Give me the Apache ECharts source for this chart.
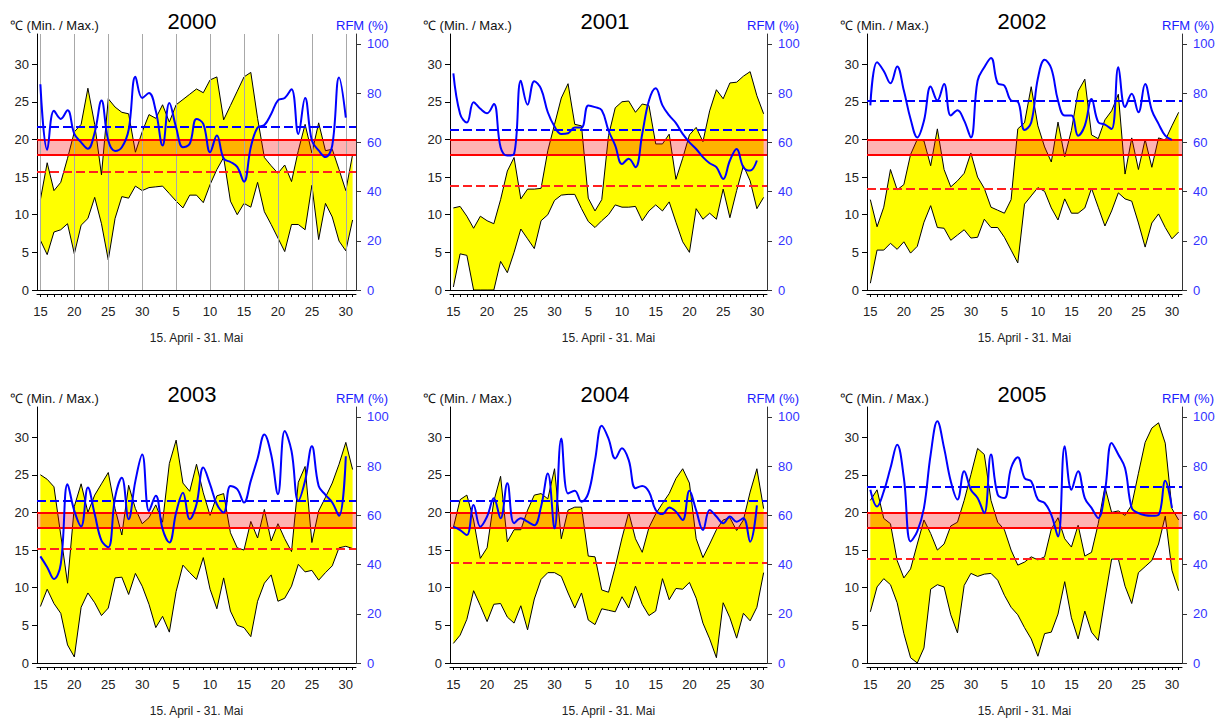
<!DOCTYPE html>
<html>
<head>
<meta charset="utf-8">
<title>Temperatur und RFM 15. April - 31. Mai, 2000-2005</title>
<script src="https://cdn.jsdelivr.net/npm/echarts@6/dist/echarts.min.js"></script>
<style>
  html, body { margin: 0; padding: 0; background: #fff; }
  #main { width: 1220px; height: 719px; }
</style>
</head>
<body>
<div id="main"></div>
<script>
// 15. April .. 31. Mai = 47 Tage
const dayLabels = Array.from({ length: 47 }, (_, i) => String(i < 16 ? i + 15 : i - 15));
const years = ['2000', '2001', '2002', '2003', '2004', '2005'];

// Tagesmaximum / Tagesminimum (°C), relative Feuchte (%)
const max2000 = [12.0,16.9,13.2,14.3,17.5,21.0,22.0,26.8,22.0,15.3,25.4,24.3,23.6,23.4,18.3,21.0,23.3,22.8,24.6,22.3,24.6,25.3,26.0,26.7,26.2,27.9,28.3,22.6,24.5,26.4,28.3,28.9,22.8,17.6,16.5,15.5,16.6,14.4,18.5,22.0,18.2,22.2,18.5,18.7,16.0,13.2,18.0];
const min2000 = [6.6,4.7,7.7,8.0,8.8,4.8,8.6,9.5,12.3,8.8,4.0,9.5,12.4,12.2,13.8,13.2,13.6,13.7,13.8,12.8,11.8,10.9,12.6,12.6,11.6,14.0,16.0,17.6,11.8,10.0,11.5,11.0,14.3,10.4,8.7,6.9,5.1,8.7,8.7,8.0,13.9,6.7,11.5,9.7,6.5,5.2,9.3];
const rfm2000 = [83.6,57,72.8,69.5,73,63.4,60,57.4,64,77,60.7,56.5,58,65,86.6,78,80,72.8,58.7,76,66,58,59.4,69.5,67.5,56,62.8,53.4,52,50,44,58,66,67,71.5,77,78,81.6,63.4,78,60.7,56.7,54,58.7,86.3,70,null];

const max2001 = [10.9,11.1,9.8,8.2,9.8,9.2,8.8,12.0,15.8,17.6,12.1,13.4,13.4,13.5,18.5,22.0,25.5,27.4,22.0,21.8,12.2,10.5,12.0,20.5,24.2,25.0,25.1,23.6,24.7,24.5,19.4,19.4,20.7,14.7,17.5,20.6,21.6,19.7,23.8,26.6,25.4,27.5,27.6,28.4,29.0,25.8,23.4];
const min2001 = [0.4,4.8,4.6,0,0,0,0,3.8,2.3,5.0,8.1,6.8,5.5,9.2,10.0,11.9,12.6,12.7,12.7,10.8,9.1,8.3,9.2,10.0,11.3,11.0,11.0,11.1,9.2,10.5,11.3,10.5,11.7,9.0,6.4,5.0,10.8,9.4,10.2,9.4,13.4,9.6,13.2,16.5,14.5,10.8,12.3];
const rfm2001 = [88,71.5,68,76.3,73.6,71.8,75.6,58,54.6,55.3,85,75.3,84.8,81.7,72.2,66.4,63.4,63.7,66,66,75,74.3,73,64.8,58.7,51.2,53.3,49.9,63.4,77,82,75,70.9,67.8,63.4,60,57.3,54,51.5,49.9,45.1,52.6,57.3,49.9,48.5,52.6,null];

const max2002 = [12.0,8.4,11.0,16.0,13.3,14.0,18.0,20.0,19.8,16.5,21.4,16.0,13.7,14.5,15.5,18.2,15.0,13.5,11.0,10.6,10.2,12.0,21.4,22.2,27.0,21.8,19.0,17.0,22.3,17.7,21.2,26.4,28.0,20.6,20.1,22.6,23.8,26.0,15.4,20.2,16.0,20.0,16.3,20.2,19.9,21.8,23.6];
const min2002 = [0.9,5.3,5.3,6.2,5.4,6.4,4.9,5.8,9.0,11.2,8.3,8.2,6.6,7.3,8.0,6.9,7.0,9.4,8.3,8.3,7.0,5.3,3.6,11.4,12.5,13.6,13.1,10.9,9.3,12.1,10.2,10.2,10.9,13.5,11.0,8.5,10.5,12.9,12.1,11.8,8.9,5.7,8.9,10.1,8.3,6.8,7.7];
const rfm2002 = [75,92.5,89,84,90.8,81,69.5,62,68.8,82.7,77,83.7,70.9,73,68.8,62,85,90.5,94.3,84,83,77,76.5,65,68,86,93.5,90,77,70.9,70.9,62.7,66.8,77.6,68.2,67.2,65.4,90.5,74.3,79.7,72.2,83.7,73,67.5,62.7,61,null];

const max2003 = [25.0,24.4,23.4,17.0,10.6,20.8,23.8,20.0,22.3,23.8,25.3,20.5,17.0,23.6,20.5,18.5,19.3,21.0,18.7,26.5,29.6,23.9,22.8,26.4,22.6,19.6,22.2,22.5,17.3,15.3,15.0,18.8,16.6,20.4,16.2,18.5,16.5,14.8,24.0,26.1,16.0,20.2,22.0,23.9,26.4,29.3,25.7];
const min2003 = [7.5,9.8,7.9,6.6,2.4,0.8,7.4,9.3,8.0,6.3,7.3,11.3,11.4,9.1,11.9,10.2,7.8,4.7,6.2,4.1,9.5,13.0,12.0,11.1,14.0,9.8,7.2,11.3,6.9,5.0,4.7,3.5,8.2,10.6,11.7,8.2,8.6,10.2,13.1,12.1,12.3,11.0,12.0,12.9,15.3,15.5,15.2];
const rfm2003 = [43.3,38.9,34.1,40.2,72.6,61.8,55.5,71.3,60.5,49.7,47,67.2,75.3,58.4,74,84.7,61.8,67.9,54.4,49,61.1,69.2,58.4,64.5,79.4,72.6,64.5,61.1,71.9,70.6,65.2,74,83.1,92.8,84.7,68.6,94.2,86.1,65.9,74,88.1,71.9,68.3,65.2,59.8,84,null];

const max2004 = [18.0,21.7,22.3,19.0,13.9,15.3,21.5,24.8,16.1,17.7,17.7,20.3,22.3,22.5,21.8,25.8,16.5,20.3,20.7,20.7,14.2,14.1,9.7,9.4,12.8,16.6,20.0,16.5,14.7,18.0,19.8,21.2,22.5,24.5,25.8,23.9,16.5,14.0,15.8,17.7,19.0,19.3,17.6,19.0,22.7,25.8,20.5];
const min2004 = [2.6,3.7,5.8,9.6,7.6,5.5,7.8,7.9,6.1,5.3,7.6,4.4,8.5,11.1,12.0,12.0,11.5,9.3,7.3,9.3,5.7,5.1,7.2,7.0,6.8,8.8,7.3,10.2,7.8,6.3,6.9,11.2,8.4,9.9,9.8,10.7,8.6,5.3,3.2,0.7,8.0,6.0,3.3,6.6,5.6,7.4,12.0];
const rfm2004 = [55.4,54,52,64.2,55.4,59.5,66.9,58.8,73,56.8,58.8,57.4,56,63.5,77,54.7,91.2,68.9,70,65.5,68.9,82.4,96.4,91.2,83.1,87.2,82.4,71,71.9,69.6,62.2,60.5,63.2,61.5,58.1,70,62,54,62.2,59.5,56.8,59.5,57.4,58.8,49.3,64,null];

const max2005 = [21.6,23.0,19.2,18.5,13.6,11.3,12.5,15.8,19.0,17.2,15.0,15.8,18.2,18.7,21.6,25.0,28.5,27.7,21.6,18.7,17.7,15.0,13.0,13.4,14.1,13.7,14.1,17.8,19.3,16.5,15.4,18.3,14.2,14.7,18.5,23.4,20.0,20.2,19.6,21.0,25.2,29.3,31.2,31.9,29.2,20.5,19.0];
const min2005 = [6.8,10.1,11.2,10.4,8.0,3.9,0.7,0,2.0,9.8,10.4,10.1,6.4,4.0,10.3,11.9,11.5,11.8,11.9,11.0,9.0,7.4,6.4,4.7,3.2,0.9,3.9,4.1,6.5,10.8,6.0,3.2,6.9,4.1,3.0,8.5,13.8,13.8,10.2,7.9,12.0,12.8,13.6,15.8,19.5,12.3,9.6];
const rfm2005 = [70.4,63.6,69.7,79.2,88.7,75.2,49.4,53.5,63,84.7,98.2,87.4,73.8,66.4,77.9,70.4,67,60.9,84.7,68.4,67,79.2,83.6,75.2,73.8,66.4,65,60.2,51.4,88.1,70.4,77.9,67,63,58.9,69.7,89.4,84.7,79.2,63,60.9,60,59.8,60.2,74,63,null];

// Mittelwerte (gestrichelt) und Optimalbereich 18-20 °C
const meanTemp = [15.7, 13.8, 13.5, 15.2, 13.3, 13.8];
const meanRfm = [66.5, 65.3, 76.7, 66.1, 65.8, 71.4];
const optimumBand = [18, 20];

const tempTicks = [0, 5, 10, 15, 20, 25, 30];
const rfmTicks = [0, 20, 40, 60, 80, 100];
const gridDays = [0, 5, 10, 15, 20, 25, 30, 35, 40, 45];

const maxs = [max2000, max2001, max2002, max2003, max2004, max2005];
const mins = [min2000, min2001, min2002, min2003, min2004, min2005];
const rfms = [rfm2000, rfm2001, rfm2002, rfm2003, rfm2004, rfm2005];

const font = '"Liberation Sans", Arial, sans-serif';
const colLeft = [37, 450, 867];
const colWidth = [319, 317, 315];
const rowTop = [34, 407];
const rowHeight = 256;

const grids = [], xAxes = [], yAxes = [], series = [], texts = [];

years.forEach((year, p) => {
  const r = Math.floor(p / 3), c = p % 3;
  grids.push({ left: colLeft[c], top: rowTop[r], width: colWidth[c], height: rowHeight });

  xAxes.push({
    gridIndex: p, type: 'category', data: dayLabels, boundaryGap: true,
    position: 'bottom', offset: 4,
    axisLine: { show: true, onZero: false, lineStyle: { color: '#000', width: 1 } },
    axisTick: { show: true, alignWithLabel: true, interval: 0, length: 3, lineStyle: { color: '#000' } },
    axisLabel: { interval: (i) => i % 5 === 0, fontSize: 13, color: '#222', margin: 11, fontFamily: font },
    splitLine: { show: false },
    name: '15. April - 31. Mai', nameLocation: 'middle', nameGap: 38,
    nameTextStyle: { fontSize: 12, color: '#222', fontFamily: font }
  });
  xAxes.push({
    gridIndex: p, type: 'category', data: dayLabels, position: 'top',
    axisLine: { show: true, lineStyle: { color: '#000', width: 1 } },
    axisTick: { show: false }, axisLabel: { show: false }, splitLine: { show: false }
  });

  yAxes.push({
    gridIndex: p, type: 'value', min: 0, max: 34, position: 'left',
    axisLine: { show: true, lineStyle: { color: '#000', width: 1 } },
    axisTick: { show: true, length: 5, customValues: tempTicks, lineStyle: { color: '#000' } },
    axisLabel: { customValues: tempTicks, fontSize: 13, color: '#222', margin: 8, fontFamily: font },
    splitLine: { show: false }
  });
  yAxes.push({
    gridIndex: p, type: 'value', min: 0, max: 104, position: 'right',
    axisLine: { show: true, lineStyle: { color: '#333', width: 1 } },
    axisTick: { show: true, length: 5, customValues: rfmTicks, lineStyle: { color: '#333' } },
    axisLabel: { customValues: rfmTicks, fontSize: 13, color: '#3333ff', margin: 11, fontFamily: font },
    splitLine: { show: false }
  });

  const xi = 2 * p, yl = 2 * p, yr = 2 * p + 1;

  // gelbes Band zwischen Minimum und Maximum
  series.push({
    type: 'line', name: 'Min ' + year, xAxisIndex: xi, yAxisIndex: yl,
    stack: 'T' + p, stackStrategy: 'all', data: mins[p],
    symbol: 'none', lineStyle: { color: '#000', width: 1 }, z: 2, silent: true
  });
  series.push({
    type: 'line', name: 'Max ' + year, xAxisIndex: xi, yAxisIndex: yl,
    stack: 'T' + p, stackStrategy: 'all',
    data: maxs[p].map((v, i) => +(v - mins[p][i]).toFixed(2)),
    symbol: 'none', lineStyle: { color: '#000', width: 1 },
    areaStyle: { color: '#ffff00', opacity: 1 }, z: 2, silent: true
  });

  // Optimalbereich, Mittelwert Temperatur, Gitterlinien (nur 2000)
  const lines = [
    { yAxis: optimumBand[0] },
    { yAxis: optimumBand[1] },
    { yAxis: meanTemp[p], lineStyle: { type: [9, 4], color: '#ff2020', width: 2 } }
  ];
  if (p === 0) {
    gridDays.forEach(d => lines.unshift({ xAxis: d, lineStyle: { type: 'solid', color: '#a8a8a8', width: 1 } }));
  }
  series.push({
    type: 'line', name: 'Bereich ' + year, xAxisIndex: xi, yAxisIndex: yl,
    data: maxs[p], symbol: 'none', lineStyle: { opacity: 0 }, z: 3, silent: true,
    markArea: {
      silent: true, z: 4,
      itemStyle: { color: 'rgba(255,0,0,0.3)' },
      data: [[{ yAxis: optimumBand[0] }, { yAxis: optimumBand[1] }]]
    },
    markLine: {
      silent: true, symbol: 'none', z: 5, animation: false,
      label: { show: false },
      lineStyle: { type: 'solid', color: '#ff0000', width: 2 },
      data: lines
    }
  });

  // relative Feuchte
  series.push({
    type: 'line', name: 'RFM ' + year, xAxisIndex: xi, yAxisIndex: yr,
    data: rfms[p], smooth: 0.4, symbol: 'none',
    lineStyle: { color: '#0000ff', width: 2 }, z: 6, silent: true,
    markLine: {
      silent: true, symbol: 'none', z: 5, animation: false,
      label: { show: false },
      lineStyle: { type: [9, 4], color: '#0000ff', width: 2 },
      data: [{ yAxis: meanRfm[p] }]
    }
  });

  const top = rowTop[r];
  const right = colLeft[c] + colWidth[c];
  texts.push({
    type: 'text', x: colLeft[c] + 155, y: top - 13,
    style: { text: year, fill: '#000', font: '22px ' + font, textAlign: 'center', textVerticalAlign: 'middle', align: 'center', verticalAlign: 'middle' }
  });
  texts.push({
    type: 'text', x: colLeft[c] - 27, y: top - 9,
    style: { text: '℃ (Min. / Max.)', fill: '#111', font: '13px ' + font, textAlign: 'left', textVerticalAlign: 'middle', align: 'left', verticalAlign: 'middle' }
  });
  texts.push({
    type: 'text', x: right + 32, y: top - 9,
    style: { text: 'RFM (%)', fill: '#2020ff', font: '13px ' + font, textAlign: 'right', textVerticalAlign: 'middle', align: 'right', verticalAlign: 'middle' }
  });
});

const chart = echarts.init(document.getElementById('main'), null, { renderer: 'svg' });
chart.setOption({
  backgroundColor: '#ffffff',
  animation: false,
  textStyle: { fontFamily: font },
  grid: grids,
  xAxis: xAxes,
  yAxis: yAxes,
  series: series,
  graphic: texts
});
</script>
</body>
</html>
